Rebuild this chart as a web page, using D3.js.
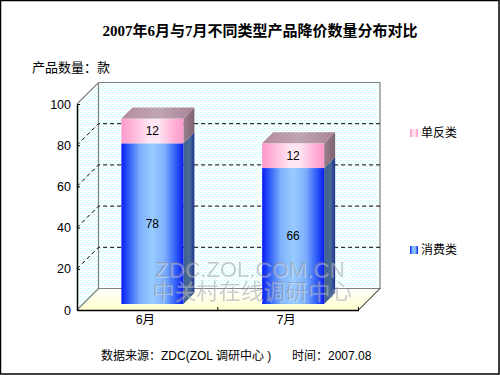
<!DOCTYPE html>
<html><head><meta charset="utf-8">
<script src="https://cdnjs.cloudflare.com/ajax/libs/d3/7.8.5/d3.min.js"></script>
<style>html,body{margin:0;padding:0;background:#fff;overflow:hidden}svg{display:block}
text{font-family:"Liberation Sans","Noto Sans CJK SC",sans-serif;fill:#000}</style></head>
<body><svg id="c" width="500" height="375"></svg>
<script>
const categories = ["6月","7月"];
const seriesNames = ["消费类","单反类"];
const consumer = [78,66];
const slr = [12,12];
const yTicks = [0,20,40,60,80,100];
const titleText = "2007年6月与7月不同类型产品降价数量分布对比";
const unitText = "产品数量:款";
const sourceText = "数据来源:ZDC(ZOL 调研中心 )";
const timeText = "时间:2007.08";
const watermark = ["ZDC.ZOL.COM.CN","中关村在线调研中心"];

const svg = d3.select("#c");
const y = d3.scaleLinear().domain([0,100]).range([310,104]);
const x = d3.scaleBand().domain(categories).range([77,358.5]);
const D = 21.5, barW = 62, z0 = 6, z1 = 17;
const defs = svg.append("defs");

function grad(id, stops, vertical){
  const g = defs.append("linearGradient").attr("id",id).attr("x1",0).attr("y1",0)
    .attr("x2",vertical?0:1).attr("y2",vertical?1:0);
  stops.forEach(s=>g.append("stop").attr("offset",s[0]).attr("stop-color",s[1]));
}
grad("blue",[[0,"#0a1cf5"],[.12,"#2f5cf8"],[.3,"#7db0fb"],[.5,"#99ccff"],[.7,"#7db0fb"],[.88,"#2f5cf8"],[1,"#0a1cf5"]]);
grad("pink",[[0,"#ff99cc"],[.15,"#ffb0d6"],[.45,"#ffe6f2"],[.6,"#ffe6f2"],[.85,"#ffb0d6"],[1,"#ff99cc"]]);
grad("blueSide",[[0,"#3f5f8f"],[.6,"#4a6a96"],[1,"#1c2f8f"]]);
grad("pinkSide",[[0,"#9c7f8c"],[1,"#7c6470"]]);
grad("pinkTop",[[0,"#b58a9e"],[.5,"#bfa6b2"],[1,"#a98296"]]);
grad("floor",[[0,"#ffffff"],[1,"#ffffcc"]],true);
const pat = defs.append("pattern").attr("id","dots").attr("width",4).attr("height",4)
  .attr("patternUnits","userSpaceOnUse");
pat.append("rect").attr("width",4).attr("height",4).attr("fill","#ffffff");
pat.append("rect").attr("width",2).attr("height",1).attr("fill","#c4ffff");
pat.append("rect").attr("x",2).attr("y",2).attr("width",2).attr("height",1).attr("fill","#c4ffff");
const emb = defs.append("filter").attr("id","emboss").attr("x","-5%").attr("y","-20%").attr("width","110%").attr("height","140%");
emb.append("feDropShadow").attr("dx",1).attr("dy",1).attr("stdDeviation",0).attr("flood-color","#fff").attr("flood-opacity",.7);

const X0 = x.range()[0], X1 = x.range()[1], Y0 = y(0), Y1 = y(100);
const poly = pts => pts.map(p=>p.join(",")).join(" ");

// walls & floor
svg.append("polygon").attr("points",poly([[X0,Y0],[X0+D,Y0-D],[X0+D,Y1-D],[X0,Y1]])).attr("fill","url(#dots)");
svg.append("rect").attr("x",X0+D).attr("y",Y1-D).attr("width",X1-X0).attr("height",Y0-Y1).attr("fill","url(#dots)");
svg.append("polygon").attr("points",poly([[X0,Y0],[X1,Y0],[X1+D,Y0-D],[X0+D,Y0-D]])).attr("fill","url(#floor)");

// wall edges
svg.append("path").attr("fill","none").attr("stroke","#808080").attr("stroke-width",1.2)
  .attr("d",`M${X0},${Y1}L${X0+D},${Y1-D}H${X1+D}V${Y0-D}H${X0+D}V${Y1-D}M${X0+D},${Y0-D}L${X0},${Y0}`);

// gridlines
yTicks.filter(t=>t>0&&t<100).forEach(t=>{
  svg.append("path").attr("fill","none").attr("stroke","#000").attr("stroke-width",1)
    .attr("stroke-dasharray","4,3")
    .attr("d",`M${X0},${y(t)}L${X0+D},${y(t)-D}H${X1+D}`);
});

// bars
categories.forEach((c,i)=>{
  const cx = x(c)+x.bandwidth()/2+5, l = cx-barW/2, r = cx+barW/2;
  const dz = z1-z0, by = v=>y(v)-z0;
  const segs = [[0,consumer[i],"url(#blue)","url(#blueSide)"],
                [consumer[i],consumer[i]+slr[i],"url(#pink)","url(#pinkSide)"]];
  segs.forEach(s=>{
    svg.append("polygon").attr("points",poly([[r,by(s[0])],[r+dz,by(s[0])-dz],[r+dz,by(s[1])-dz],[r,by(s[1])]])).attr("fill",s[3]);
    svg.append("rect").attr("x",l).attr("y",by(s[1])).attr("width",barW).attr("height",by(s[0])-by(s[1])).attr("fill",s[2]);
  });
  const top = consumer[i]+slr[i];
  svg.append("polygon").attr("points",poly([[l,by(top)],[r,by(top)],[r+dz,by(top)-dz],[l+dz,by(top)-dz]])).attr("fill","url(#pinkTop)");
  svg.append("text").attr("x",cx).attr("y",by(consumer[i]/2)+4).attr("text-anchor","middle").attr("font-size",12).text(consumer[i]);
  svg.append("text").attr("x",cx).attr("y",by(consumer[i]+slr[i]/2)+4).attr("text-anchor","middle").attr("font-size",12).text(slr[i]);
});

// watermark
const wm = svg.append("g").attr("filter","url(#emboss)");
wm.append("text").attr("x",250).attr("y",277).attr("text-anchor","middle").attr("font-size",22)
  .attr("textLength",190).attr("lengthAdjust","spacingAndGlyphs").style("fill","#80858f").attr("fill-opacity",.45).text(watermark[0]);
wm.append("text").attr("x",252).attr("y",299).attr("text-anchor","middle").attr("font-size",22)
  .attr("textLength",200).attr("lengthAdjust","spacingAndGlyphs").style("fill","#80858f").attr("fill-opacity",.45).text(watermark[1]);

// axes
const axL = svg.append("g").attr("transform",`translate(${X0},0)`)
  .call(d3.axisLeft(y).tickValues(yTicks).tickSize(0).tickPadding(6));
axL.select(".domain").attr("stroke","#000").attr("stroke-width",1.5);
axL.selectAll("text").attr("font-size",12.5);
axL.selectAll(".tick").append("line").attr("x2",3).attr("stroke","#000");
const axB = svg.append("g").attr("transform",`translate(0,${Y0})`)
  .call(d3.axisBottom(x).tickSize(0).tickPadding(5));
axB.select(".domain").attr("stroke","#000").attr("stroke-width",1.5);
axB.selectAll("text").attr("font-size",12.5).attr("dx",-2);
svg.append("line").attr("x1",x(categories[1])).attr("x2",x(categories[1])).attr("y1",Y0-3).attr("y2",Y0).attr("stroke","#000");
svg.append("line").attr("x1",X1).attr("x2",X1).attr("y1",Y0-3).attr("y2",Y0).attr("stroke","#000");
svg.append("line").attr("x1",X1).attr("y1",Y0).attr("x2",X1+D).attr("y2",Y0-D).attr("stroke","#000");

// texts
svg.append("text").attr("x",260).attr("y",36).attr("text-anchor","middle").attr("font-size",15)
  .attr("font-weight","bold").style("font-family",'"Liberation Serif","Noto Sans CJK SC",serif').text(titleText);
svg.append("text").attr("x",32).attr("y",72).attr("font-size",13).style("font-family",'"Noto Sans CJK SC",sans-serif').text(unitText.replace(":","："));
svg.append("text").attr("x",101).attr("y",360).attr("font-size",12).text(sourceText.replace(":","："));
svg.append("text").attr("x",292).attr("y",360).attr("font-size",12).text(timeText.replace(":","："));

// legend
[[1,133],[0,250]].forEach(([i,ly])=>{
  svg.append("rect").attr("x",410).attr("y",ly-4).attr("width",8).attr("height",8).attr("fill",i?"url(#pink)":"url(#blue)");
  svg.append("text").attr("x",421).attr("y",ly+4).attr("font-size",12).text(seriesNames[i]);
});

// border
svg.append("rect").attr("x",.5).attr("y",.5).attr("width",498.5).attr("height",373.5).attr("fill","none").attr("stroke","#000").attr("stroke-width",1.5);
</script></body></html>
